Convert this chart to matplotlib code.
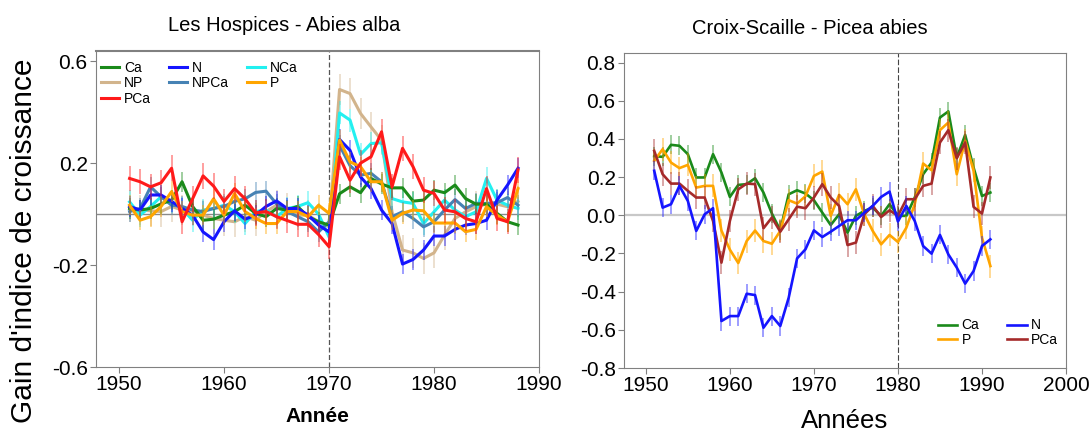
import numpy as np
import matplotlib
matplotlib.use('Agg')
import matplotlib.pyplot as plt

plt.rcParams['font.family'] = ['Liberation Sans', 'DejaVu Sans']

# Les Hospices - Abies alba (1951-1988)
years_l = list(range(1951, 1989))
ca_l = [0.022, 0.016, 0.022, 0.04, 0.055, 0.127, 0.03, -0.024, -0.02, -0.004,
        0.01, 0.035, 0.003, -0.01, 0.022, 0.016, 0.03, -0.01, -0.03, -0.043,
        0.08, 0.107, 0.084, 0.14, 0.118, 0.103, 0.103, 0.051, 0.055, 0.094,
        0.084, 0.114, 0.061, 0.039, 0.039, 0.003, -0.03, -0.043]
np_l = [0.03, 0.016, 0.013, 0.01, 0.03, 0.016, 0.013, -0.004, -0.017, -0.024,
        -0.03, -0.01, -0.024, 0.01, 0.035, 0.022, -0.004, -0.004, -0.03, -0.05,
        0.489, 0.473, 0.395, 0.342, 0.29, 0.009, -0.141, -0.152, -0.174, -0.152,
        -0.082, -0.017, 0.009, 0.029, 0.039, 0.039, 0.029, 0.05]
pca_l = [0.14, 0.127, 0.107, 0.123, 0.18, -0.03, 0.06, 0.15, 0.11, 0.05,
         0.10, 0.06, 0.005, 0.01, -0.01, -0.025, -0.04, -0.04, -0.08, -0.128,
         0.225, 0.133, 0.2, 0.225, 0.323, 0.107, 0.258, 0.186, 0.094, 0.081,
         0.016, 0.009, -0.017, -0.03, 0.10, -0.017, -0.03, 0.173]
n_l = [0.03, 0.016, 0.075, 0.075, 0.05, 0.022, -0.004, -0.07, -0.1, -0.03,
       0.013, -0.02, -0.004, 0.03, 0.052, 0.022, 0.022, -0.004, -0.043, -0.07,
       0.293, 0.25, 0.146, 0.1, 0.016, -0.037, -0.196, -0.178, -0.141, -0.086,
       -0.086, -0.06, -0.043, -0.037, -0.024, 0.055, 0.114, 0.18]
npca_l = [0.01, 0.022, 0.107, 0.068, 0.035, 0.03, 0.016, 0.01, 0.022, 0.03,
          0.05, 0.06, 0.085, 0.09, 0.04, 0.01, -0.01, -0.03, -0.07, -0.03,
          0.27, 0.19, 0.153, 0.16, 0.127, -0.01, 0.009, -0.017, -0.05, -0.03,
          0.016, 0.057, 0.022, 0.042, 0.042, 0.045, 0.065, 0.035]
nca_l = [0.048, -0.004, 0.03, 0.068, 0.048, 0.022, -0.024, 0.016, 0.022, 0.035,
         0.01, -0.037, 0.01, 0.016, -0.01, 0.022, 0.03, 0.045, 0.0, -0.09,
         0.397, 0.369, 0.234, 0.277, 0.28, 0.061, 0.048, 0.042, -0.037, 0.009,
         0.055, 0.016, -0.01, 0.009, 0.14, 0.055, 0.035, 0.022]
p_l = [0.035, -0.024, -0.01, 0.03, 0.088, 0.01, -0.004, -0.004, 0.06, -0.004,
       0.081, 0.01, -0.017, -0.037, -0.037, 0.01, 0.01, -0.01, 0.035, 0.003,
       0.29, 0.205, 0.186, 0.127, 0.127, -0.024, 0.003, 0.016, 0.013, -0.035,
       -0.035, -0.035, -0.069, -0.06, 0.029, -0.004, -0.03, 0.1]

# Croix-Scaille - Picea abies (1951-1991)
years_r = list(range(1951, 1992))
ca_r = [0.31, 0.306, 0.369, 0.364, 0.32, 0.198, 0.198, 0.32, 0.224, 0.096,
        0.159, 0.163, 0.194, 0.119, 0.009, -0.079, 0.11, 0.131, 0.114, 0.079,
        0.014, -0.051, 0.005, -0.091, -0.003, 0.023, 0.04, -0.003, 0.058, -0.003,
        -0.003, 0.093, 0.215, 0.276, 0.512, 0.544, 0.302, 0.421, 0.25, 0.101, 0.119]
p_r = [0.285, 0.346, 0.276, 0.247, 0.264, 0.145, 0.154, 0.154, -0.08, -0.18,
       -0.25, -0.135, -0.08, -0.135, -0.149, -0.082, 0.079, 0.061, 0.1, 0.206,
       0.229, -0.003, 0.107, 0.058, 0.136, 0.005, -0.082, -0.152, -0.103, -0.14,
       -0.065, 0.058, 0.271, 0.236, 0.446, 0.486, 0.215, 0.39, 0.233, -0.117, -0.266]
pca_r = [0.337, 0.215, 0.166, 0.166, 0.128, 0.093, 0.093, -0.03, -0.248, -0.03,
         0.136, 0.166, 0.163, -0.068, -0.012, -0.086, -0.021, 0.045, 0.037, 0.093,
         0.163, 0.093, 0.049, -0.156, -0.143, 0.005, 0.049, -0.009, 0.026, -0.003,
         0.084, 0.084, 0.154, 0.166, 0.381, 0.446, 0.299, 0.381, 0.044, 0.009, 0.198]
n_r = [0.233, 0.04, 0.058, 0.154, 0.075, -0.082, 0.005, 0.037, -0.554, -0.528,
       -0.528, -0.411, -0.418, -0.589, -0.528, -0.58, -0.432, -0.226, -0.178, -0.079,
       -0.114, -0.086, -0.056, -0.026, -0.026, 0.014, 0.049, 0.096, 0.124, -0.033,
       0.049, -0.03, -0.161, -0.201, -0.103, -0.205, -0.274, -0.358, -0.292, -0.161, -0.126]

yticks_l = [0.6, 0.2, -0.2, -0.6]
yticks_r = [-0.8, -0.6, -0.4, -0.2, 0.0, 0.2, 0.4, 0.6, 0.8]

# error bar half-widths per series
err_l = {'Ca': 0.04, 'NP': 0.06, 'PCa': 0.05, 'N': 0.04, 'NPCa': 0.04, 'NCa': 0.045, 'P': 0.04}
err_r = {'Ca': 0.05, 'P': 0.06, 'PCa': 0.06, 'N': 0.05}

colors = {'Ca': '#1a8a1a', 'NP': '#d2b48c', 'PCa': '#ff1a1a', 'N': '#1515ff',
          'NPCa': '#4682b4', 'NCa': '#22f0f0', 'P': '#ffa500'}

fig = plt.figure(figsize=(10.92, 4.33), dpi=100)
ax1 = fig.add_axes([0.0879, 0.1524, 0.4057, 0.7298])
ax2 = fig.add_axes([0.5714, 0.1501, 0.4048, 0.7275])


def draw(ax, x, y, e, c, lab, lw):
    y = np.array(y)
    ax.vlines(x, y - e, y + e, colors=c, alpha=0.45, lw=1.3)
    ax.plot(x, y, color=c, lw=lw, label=lab)


ax1.axhline(0, color='#8a8a8a', lw=1, zorder=0)
ax1.axvline(1970, color='#555555', lw=0.9, ls=(0, (4, 2)), zorder=0)
for lab, vals in [('NP', np_l), ('NCa', nca_l), ('NPCa', npca_l), ('Ca', ca_l),
                  ('N', n_l), ('P', p_l), ('PCa', pca_l)]:
    draw(ax1, years_l, vals, err_l[lab], colors[lab], lab, 2.2)
h, l = ax1.get_legend_handles_labels()
order = [l.index(k) for k in ['Ca', 'NP', 'PCa', 'N', 'NPCa', 'NCa', 'P']]
ax1.legend([h[i] for i in order], [l[i] for i in order], ncol=3, loc='upper left',
           frameon=False, fontsize=10, handlelength=1.3, handletextpad=0.35,
           columnspacing=1.3, labelspacing=0.1, borderaxespad=0.3,
           bbox_to_anchor=(-0.01, 1.0))
ax1.set_xlim(1947.8, 1990)
ax1.set_ylim(-0.6, 0.64)
ax1.set_xticks([1950, 1960, 1970, 1980, 1990])
ax1.set_yticks(yticks_l)
ax1.set_yticklabels(['%.1f' % v for v in yticks_l])
ax1.set_xlabel('Année', fontsize=15, fontweight='bold')
ax1.xaxis.set_label_coords(0.5, -0.125)

colors_r = dict(colors)
colors_r['PCa'] = '#a52a2a'
ax2.axhline(0, color='#c8c8c8', lw=1.6, zorder=0)
ax2.axvline(1980, color='#444444', lw=0.8, ls=(0, (5, 2)), zorder=0)
for lab, vals in [('Ca', ca_r), ('P', p_r), ('PCa', pca_r), ('N', n_r)]:
    draw(ax2, years_r, vals, err_r[lab], colors_r[lab], lab, 1.9)
h, l = ax2.get_legend_handles_labels()
order = [l.index(k) for k in ['Ca', 'P', 'N', 'PCa']]
ax2.legend([h[i] for i in order], [l[i] for i in order], ncol=2, loc='lower right',
           frameon=False, fontsize=10, handlelength=1.4, handletextpad=0.3,
           columnspacing=2.0, labelspacing=0.05, borderaxespad=0.2,
           bbox_to_anchor=(1.0, 0.04))
ax2.set_xlim(1947.4, 2000)
ax2.set_ylim(-0.8, 0.85)
ax2.set_xticks([1950, 1960, 1970, 1980, 1990, 2000])
ax2.set_yticks(yticks_r)
ax2.set_yticklabels(['%.1f' % v for v in yticks_r])
ax2.set_xlabel('Années', fontsize=18.5)
ax2.xaxis.set_label_coords(0.5, -0.13)

for ax in (ax1, ax2):
    for s in ax.spines.values():
        s.set_color('#808080')
    ax.tick_params(labelsize=15, length=4, color='#808080', direction='out', pad=2)
ax1.spines['top'].set_linewidth(1.5)

title_font = ['Liberation Sans Narrow', 'Liberation Sans', 'DejaVu Sans']
fig.text(0.26, 0.94, 'Les Hospices - Abies alba', ha='center', va='center',
         fontsize=14.5, family=title_font)
fig.text(0.742, 0.935, 'Croix-Scaille - Picea abies', ha='center', va='center',
         fontsize=14.5, family=title_font)
fig.text(0.022, 0.445, "Gain d'indice de croissance", rotation=90, ha='center',
         va='center', fontsize=21.5)

fig.savefig('out.png', dpi=100)
